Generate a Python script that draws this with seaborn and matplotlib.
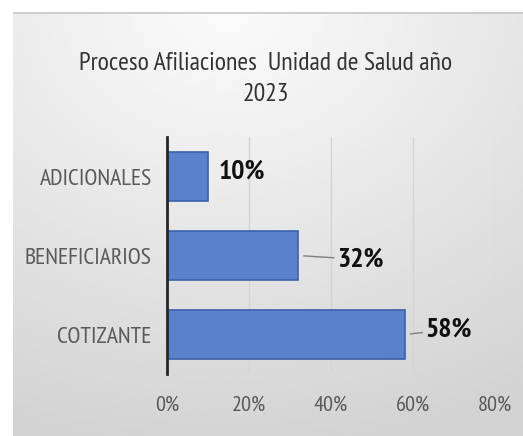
import numpy as np
import pandas as pd
import matplotlib
matplotlib.use("Agg")
import matplotlib.pyplot as plt
import seaborn as sns

categorias = ["ADICIONALES", "BENEFICIARIOS", "COTIZANTE"]
porcentajes = [10, 32, 58]
etiquetas = ["10%", "32%", "58%"]
ticks_x = [0, 20, 40, 60, 80]

titulo = "Proceso Afiliaciones  Unidad de Salud año\n2023"

df = pd.DataFrame({"categoria": categorias, "porcentaje": porcentajes})

sns.set_theme(style="white")
plt.rcParams["font.family"] = ["PT Sans Narrow", "DejaVu Sans"]

fig = plt.figure(figsize=(5.23, 4.36), dpi=100)

# fondo degradado tipo Excel
bg = fig.add_axes([13 / 523, 0, 1 - 13 / 523, 1 - 12 / 436], zorder=-10)
yy, xx = np.mgrid[0:1:200j, 0:1:200j]
r = np.sqrt((xx - 0.42) ** 2 + (yy * 1.05) ** 2)
grad = 0.985 - 0.16 * np.clip(r / 1.1, 0, 1)
bg.imshow(grad, cmap="gray", vmin=0, vmax=1, aspect="auto",
          extent=[0, 1, 1, 0], interpolation="bilinear")
bg.set_xlim(0, 1)
bg.set_ylim(1, 0)
bg.axis("off")
bg.plot([0, 1], [0.002, 0.002], color="#c8c8c8", lw=1.2)

ax = fig.add_axes([167 / 523, 1 - 374 / 436, 328 / 523, 237 / 436])
ax.patch.set_alpha(0)

sns.barplot(data=df, x="porcentaje", y="categoria", orient="h",
            color="#5A82CC", width=0.62, edgecolor="#3B62A8",
            linewidth=1.2, saturation=1, ax=ax, zorder=3)

ax.set_xlim(0, 80)
ax.set_xticks(ticks_x)
ax.set_xticklabels([f"{t}%" for t in ticks_x])
ax.grid(axis="x", color="#d4d4d4", lw=1, zorder=0)
ax.set_axisbelow(True)
for s in ["top", "right", "bottom"]:
    ax.spines[s].set_visible(False)
ax.spines["left"].set_color("#262626")
ax.spines["left"].set_linewidth(2)
ax.spines["left"].set_zorder(5)
ax.tick_params(axis="both", length=0, colors="#595959")
ax.tick_params(axis="x", pad=16, labelsize=16)
ax.tick_params(axis="y", pad=11, labelsize=17)
ax.set_xlabel("")
ax.set_ylabel("")

offsets = [(11, 5), (39, -4), (21, 5)]
lineas = [False, True, True]
for i, (v, lab) in enumerate(zip(porcentajes, etiquetas)):
    dx, dy = offsets[i]
    ax.annotate(lab, xy=(v, i), xytext=(dx, dy), textcoords="offset pixels",
                ha="left", va="center", fontsize=20, fontweight="bold",
                color="#111111", zorder=6,
                arrowprops=dict(arrowstyle="-", color="#7f7f7f", lw=1,
                                shrinkA=0, shrinkB=4) if lineas[i] else None)

fig.text(266 / 523, 1 - 79 / 436, titulo, ha="center", va="center",
         fontsize=18.5, color="#333333", linespacing=1.45)

fig.savefig("out.png", dpi=100)
